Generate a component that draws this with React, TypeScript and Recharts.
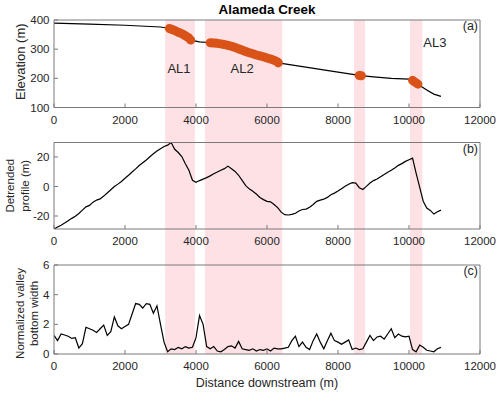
import { ComposedChart, Line, XAxis, YAxis, ReferenceArea, ReferenceDot } from 'recharts'

const INK = '#262626'
const BOX = '#7a7a7a'
const ORANGE = '#D95319'
const BAND = '#fde1e4'
const FONT = '"Liberation Sans", Arial, Helvetica, sans-serif'

const X_TICKS = [0, 2000, 4000, 6000, 8000, 10000, 12000]
const X_DOMAIN: [number, number] = [0, 12000]

// shaded reaches (m downstream)
const BANDS: [number, number][] = [
  [3130, 3970],
  [4250, 6430],
  [8450, 8760],
  [10030, 10375],
]

// (a) long profile
const ELEV_DIST = [
  0, 1000, 2000, 3000, 3250, 3400, 3500, 3600, 3700, 3800, 3850, 4100, 4400, 4500, 4600, 4700, 4800, 4900,
  5000, 5100, 5200, 5300, 5400, 5500, 5600, 5700, 5800, 5900, 6000, 6100, 6200, 6300, 6320, 7000, 7500,
  8000, 8600, 8660, 9000, 9500, 10000, 10100, 10180, 10250, 10500, 10700, 10900,
]
const ELEV = [
  389, 386, 382, 376, 371, 364, 358, 353, 346, 338, 331, 325, 322, 321, 320, 318, 316, 313,
  310, 306, 301, 297, 292, 288, 284, 280, 277, 274, 270, 266, 262, 256, 253, 240, 231,
  221, 210, 209, 205, 200, 197, 193, 186, 180, 160, 146, 138,
]
// orange highlighted stretches
const AL_SEGMENTS: [number, number][] = [
  [3250, 3850],
  [4400, 6320],
  [8600, 8660],
  [10100, 10250],
]
const AL_LABELS = [
  { name: 'AL1', d: 3520, y: 235 },
  { name: 'AL2', d: 5300, y: 235 },
  { name: 'AL3', d: 10730, y: 324 },
]

// (b) and (c) sampled every 100 m
const DIST = [
  0, 100, 200, 300, 400, 500, 600, 700, 800, 900, 1000, 1100, 1200, 1300, 1400, 1500, 1600, 1700, 1800, 1900,
  2000, 2100, 2200, 2300, 2400, 2500, 2600, 2700, 2800, 2900, 3000, 3100, 3200, 3300, 3400, 3500, 3600, 3700,
  3800, 3900, 4000, 4100, 4200, 4300, 4400, 4500, 4600, 4700, 4800, 4900, 5000, 5100, 5200, 5300, 5400, 5500,
  5600, 5700, 5800, 5900, 6000, 6100, 6200, 6300, 6400, 6500, 6600, 6700, 6800, 6900, 7000, 7100, 7200, 7300,
  7400, 7500, 7600, 7700, 7800, 7900, 8000, 8100, 8200, 8300, 8400, 8500, 8600, 8700, 8800, 8900, 9000, 9100,
  9200, 9300, 9400, 9500, 9600, 9700, 9800, 9900, 10000, 10100, 10200, 10300, 10400, 10500, 10600, 10700,
  10800, 10900,
]
const DETRENDED = [
  -28.8, -27.5, -26.2, -24.8, -23.2, -21.6, -20.2, -18.3, -16, -13.8, -12.8, -10.6, -9.2, -8.4, -6.5, -4.4, -2.2, 0, 1.6, 3.4,
  5.6, 7.6, 9.8, 11.9, 14.2, 16.1, 18, 20.1, 22.2, 24.1, 25.6, 27.1, 28, 29.8, 25.2, 23, 20.3, 15.4,
  11, 4.2, 2.8, 4, 5, 6, 7.2, 8.6, 9.8, 11, 12.1, 13.8, 12, 10.2, 7.6, 4.1, 0.6, -1.6,
  -3.2, -5.1, -7.4, -8.9, -10.1, -10.4, -12.2, -14.3, -17.4, -19.1, -19.3, -18.9, -18.1, -16.6, -15.6, -15.3, -14.1, -12.2,
  -10.1, -9.2, -8.6, -7.4, -5.6, -4.5, -3.1, -1.5, 0.1, 1.5, 2.6, 2.3, -0.8, -2, 0.1, 2.4, 4, 5.1,
  6.6, 8.1, 9.6, 11, 12.6, 14.3, 15.5, 17, 18.1, 19.2, 9, -0.5, -10, -14.6, -16.2, -18.7,
  -17.1, -16,
]
const VALLEY_WIDTH = [
  1.25, 0.9, 1.35, 1.28, 1.2, 1.05, 1.1, 0.4, 0.7, 1.8, 1.7, 1.6, 1.45, 1.7, 1.95, 1.25, 1.5, 2.5, 1.9, 1.7,
  1.85, 2.0, 2.7, 3.4, 3.35, 3.1, 3.4, 3.35, 2.75, 3.25, 2.0, 0.8, 0.15, 0.35, 0.3, 0.45, 0.35, 0.5,
  0.4, 0.45, 1.1, 2.6, 2.0, 0.5, 0.35, 0.5, 0.2, 0.15, 0.3, 0.5, 0.55, 0.4, 0.85, 0.35, 0.3, 0.25,
  0.35, 0.2, 0.3, 0.25, 0.35, 0.2, 0.4, 0.35, 0.35, 0.4, 0.45, 0.9, 1.2, 0.5, 0.8, 0.45, 0.3, 0.9,
  1.35, 0.8, 0.35, 0.9, 1.4, 0.9, 0.8, 0.65, 0.8, 0.95, 0.3, 0.4, 0.3, 0.35, 0.8, 1.25, 0.9, 1.15,
  1.2, 1.0, 1.35, 1.7, 1.1, 1.35, 1.2, 1.15, 1.2, 0.3, 0.15, 0.6, 0.45, 0.25, 0.2, 0.15,
  0.35, 0.45,
]

const elevRows = ELEV_DIST.map((d, i) => ({
  d,
  elev: ELEV[i],
  al: AL_SEGMENTS.some(([a, b]) => d >= a && d <= b) ? ELEV[i] : null,
}))
const profileRows = DIST.map((d, i) => ({ d, v: DETRENDED[i] }))
const widthRows = DIST.map((d, i) => ({ d, v: VALLEY_WIDTH[i] }))

const tickFont = { fontSize: 11.5, fill: INK, fontFamily: FONT }

// axes get 1px of room, so margins are the plot box minus 1
const margins = (top: number, bottom: number) => ({ top: top - 1, bottom: bottom - 1, left: 53, right: 19 })

const yTitle = (lines: string[], xs: number[], size: number, dy = 0) =>
  function YTitle(props: any) {
    const vb = props.viewBox
    const cy = vb.y + vb.height / 2 + dy
    return (
      <g>
        {lines.map((t, i) => (
          <text
            key={t}
            x={xs[i]}
            y={cy}
            transform={`rotate(-90 ${xs[i]} ${cy})`}
            textAnchor="middle"
            dominantBaseline="central"
            fontSize={size}
            fill={INK}
            fontFamily={FONT}
          >
            {t}
          </text>
        ))}
      </g>
    )
  }

const cornerTag = (tag: string) =>
  function CornerTag(props: any) {
    const vb = props.viewBox
    return (
      <text x={vb.x + vb.width - 2} y={vb.y + vb.height + 6} textAnchor="end" dominantBaseline="central" fontSize={12.5} fill={INK} fontFamily={FONT}>
        {tag}
      </text>
    )
  }

function DistanceTitle(props: any) {
  const vb = props.viewBox
  return (
    <text x={vb.x + vb.width / 2} y={vb.y + 29} textAnchor="middle" dominantBaseline="central" fontSize={12.5} fill={INK} fontFamily={FONT}>
      Distance downstream (m)
    </text>
  )
}

function frameAxes(
  yDomain: [number, number],
  yTicks: number[],
  title: (p: any) => any,
  tag: string,
  bottomLabel?: (p: any) => any,
) {
  return [
    <XAxis
      key="xb"
      xAxisId="b"
      type="number"
      dataKey="d"
      domain={X_DOMAIN}
      ticks={X_TICKS}
      allowDataOverflow
      height={1}
      stroke={BOX}
      tickSize={-4}
      tickMargin={12}
      tick={tickFont}
      label={bottomLabel}
    />,
    <XAxis
      key="xt"
      xAxisId="t"
      orientation="top"
      type="number"
      dataKey="d"
      domain={X_DOMAIN}
      ticks={X_TICKS}
      allowDataOverflow
      height={1}
      stroke={BOX}
      tickSize={-4}
      tick={false}
      label={cornerTag(tag)}
    />,
    <YAxis
      key="yl"
      yAxisId="l"
      type="number"
      domain={yDomain}
      ticks={yTicks}
      allowDataOverflow
      width={1}
      stroke={BOX}
      tickSize={-4}
      tickMargin={8.5}
      tick={tickFont}
      label={title}
    />,
    <YAxis
      key="yr"
      yAxisId="r"
      orientation="right"
      type="number"
      domain={yDomain}
      ticks={yTicks}
      allowDataOverflow
      width={1}
      stroke={BOX}
      tickSize={-4}
      tick={false}
    />,
  ]
}

const bandRows = [
  { d: 0, v: 0 },
  { d: 12000, v: 1 },
]

export default function App() {
  return (
    <div style={{ position: 'absolute', left: 0, top: 0, width: 500, height: 394, background: '#fff', fontFamily: FONT }}>
      {/* shaded reaches behind all three panels */}
      <div style={{ position: 'absolute', left: 0, top: 0 }}>
        <ComposedChart width={500} height={394} data={bandRows} margin={{ top: 20, right: 20, bottom: 40, left: 54 }}>
          <XAxis type="number" dataKey="d" domain={X_DOMAIN} allowDataOverflow hide />
          <YAxis type="number" domain={[0, 1]} allowDataOverflow hide />
          {BANDS.map(([a, b]) => (
            <ReferenceArea key={a} x1={a} x2={b} y1={0} y2={1} fill={BAND} fillOpacity={1} stroke="none" />
          ))}
          <Line dataKey="v" stroke="none" dot={false} isAnimationActive={false} />
        </ComposedChart>
      </div>

      <div
        style={{
          position: 'absolute',
          left: 0,
          top: 0,
          width: 534,
          lineHeight: '20px',
          textAlign: 'center',
          fontSize: 13.4,
          fontWeight: 700,
          color: '#000',
        }}
      >
        Alameda Creek
      </div>

      {/* (a) elevation */}
      <div style={{ position: 'absolute', left: 0, top: 0 }}>
        <ComposedChart width={500} height={130} data={elevRows} margin={margins(20, 22.5)}>
          {frameAxes([100, 400], [100, 200, 300, 400], yTitle(['Elevation (m)'], [20], 13, -2), '(a)')}
          <Line xAxisId="b" yAxisId="l" dataKey="elev" stroke="#000" strokeWidth={1.2} dot={false} isAnimationActive={false} />
          <Line
            xAxisId="b"
            yAxisId="l"
            dataKey="al"
            stroke={ORANGE}
            strokeWidth={9}
            strokeLinecap="round"
            strokeLinejoin="round"
            dot={false}
            connectNulls={false}
            isAnimationActive={false}
          />
          {AL_LABELS.map((l) => (
            <ReferenceDot
              key={l.name}
              xAxisId="b"
              yAxisId="l"
              x={l.d}
              y={l.y}
              r={0}
              fill="none"
              stroke="none"
              label={{ value: l.name, position: 'center', fontSize: 13, fill: INK, fontFamily: FONT }}
            />
          ))}
        </ComposedChart>
      </div>

      {/* (b) detrended profile */}
      <div style={{ position: 'absolute', left: 0, top: 130 }}>
        <ComposedChart width={500} height={120} data={profileRows} margin={margins(12.5, 21)}>
          {frameAxes([-28.8, 29.8], [-20, 0, 20], yTitle(['Detrended', 'profile (m)'], [10, 25], 11.5), '(b)')}
          <Line xAxisId="b" yAxisId="l" dataKey="v" stroke="#000" strokeWidth={1.2} dot={false} isAnimationActive={false} />
        </ComposedChart>
      </div>

      {/* (c) normalized valley bottom width */}
      <div style={{ position: 'absolute', left: 0, top: 250 }}>
        <ComposedChart width={500} height={144} data={widthRows} margin={margins(15, 40)}>
          {frameAxes(
            [0, 6],
            [0, 2, 4, 6],
            yTitle(['Normalized valley', 'bottom width'], [20, 34], 11.5, 4),
            '(c)',
            DistanceTitle,
          )}
          <Line xAxisId="b" yAxisId="l" dataKey="v" stroke="#000" strokeWidth={1.2} dot={false} isAnimationActive={false} />
        </ComposedChart>
      </div>
    </div>
  )
}
